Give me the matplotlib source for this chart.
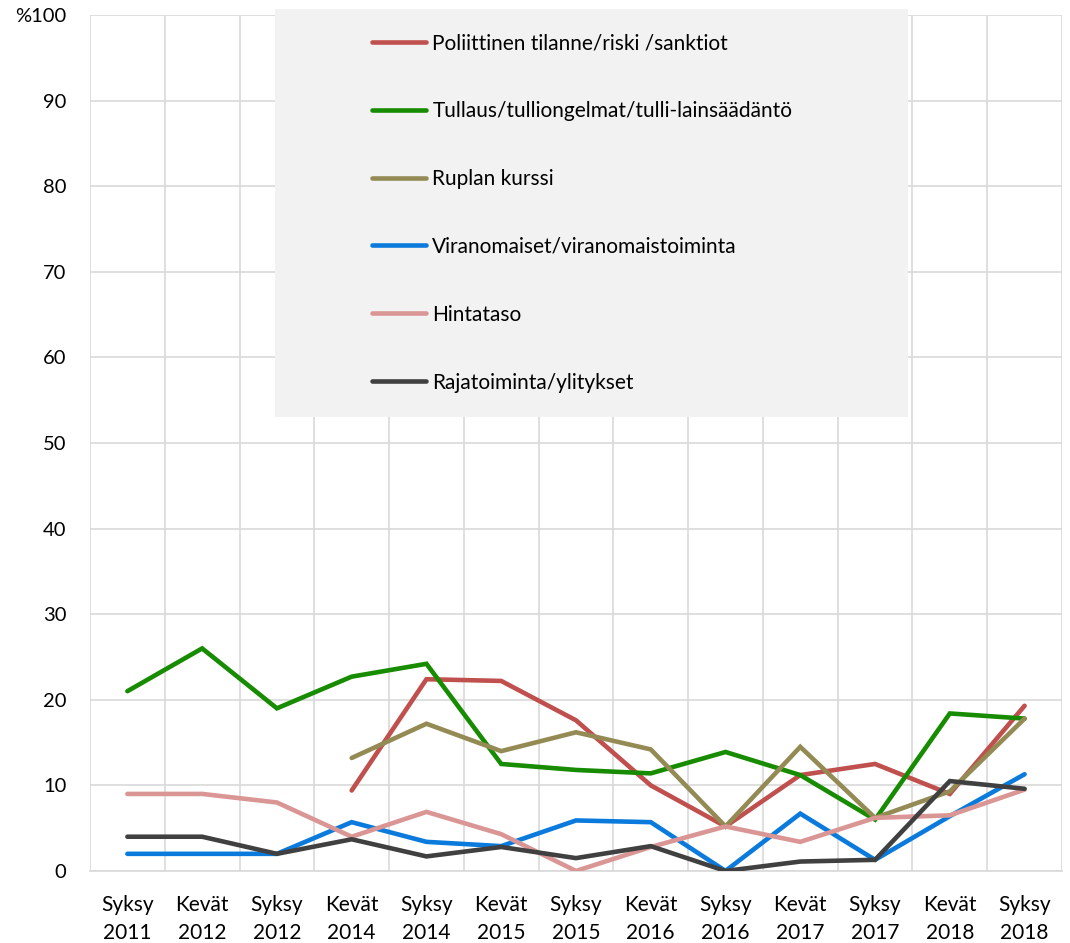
import matplotlib.pyplot as plt
from matplotlib.patches import Rectangle
import numpy as np

plt.rcParams['font.family'] = ['Lato', 'DejaVu Sans']

# categories (two-line labels)
periods = ["Syksy\n2011", "Kevät\n2012", "Syksy\n2012", "Kevät\n2014", "Syksy\n2014",
           "Kevät\n2015", "Syksy\n2015", "Kevät\n2016", "Syksy\n2016", "Kevät\n2017",
           "Syksy\n2017", "Kevät\n2018", "Syksy\n2018"]

# series values (%), None = no data
poliittinen = [None, None, None, 9.4, 22.4, 22.2, 17.6, 10.0, 5.2, 11.2, 12.5, 9.0, 19.3]
tullaus = [21.0, 26.0, 19.0, 22.7, 24.2, 12.5, 11.8, 11.4, 13.9, 11.2, 6.0, 18.4, 17.8]
rupla = [None, None, None, 13.2, 17.2, 14.0, 16.2, 14.2, 5.2, 14.5, 6.2, 9.3, 17.8]
viranomaiset = [2.0, 2.0, 2.0, 5.7, 3.4, 2.9, 5.9, 5.7, 0.0, 6.7, 1.3, 6.4, 11.3]
hintataso = [9.0, 9.0, 8.0, 4.0, 6.9, 4.3, 0.0, 2.8, 5.2, 3.4, 6.2, 6.5, 9.5]
rajatoiminta = [4.0, 4.0, 2.0, 3.7, 1.7, 2.8, 1.5, 2.9, 0.0, 1.1, 1.3, 10.5, 9.6]

series = [
    ("Poliittinen tilanne/riski /sanktiot", poliittinen, "#c0504d"),
    ("Tullaus/tulliongelmat/tulli-lainsäädäntö", tullaus, "#178c00"),
    ("Ruplan kurssi", rupla, "#948a54"),
    ("Viranomaiset/viranomaistoiminta", viranomaiset, "#0a7bdc"),
    ("Hintataso", hintataso, "#da9694"),
    ("Rajatoiminta/ylitykset", rajatoiminta, "#404040"),
]

fig = plt.figure(figsize=(10.7, 9.43), dpi=100)
ax = fig.add_axes([0.0841, 0.0764, 0.9084, 0.9077])

x = np.arange(len(periods))
for name, vals, col in series:
    y = np.array([np.nan if v is None else v for v in vals])
    ax.plot(x, y, color=col, lw=3.3, label=name, solid_capstyle='round',
            solid_joinstyle='miter', zorder=3)

ax.set_xlim(-0.5, len(periods) - 0.5)
ax.set_ylim(0, 100)
ax.set_yticks(np.arange(0, 101, 10))
ax.set_yticklabels([str(v) for v in range(0, 100, 10)] + ["%100"], fontsize=14.5)
ax.set_xticks(x)
ax.set_xticklabels(periods, fontsize=15, linespacing=1.5)
ax.set_xticks(np.arange(-0.5, len(periods)), minor=True)
ax.grid(True, axis='y', color='#d9d9d9', lw=1.2)
ax.grid(True, axis='x', which='minor', color='#d9d9d9', lw=1.2)
ax.tick_params(axis='both', which='both', length=0)
ax.tick_params(axis='x', pad=17)
ax.tick_params(axis='y', pad=17)
for s in ax.spines.values():
    s.set_visible(False)
ax.spines['bottom'].set_visible(True)
ax.spines['bottom'].set_color('#d9d9d9')
ax.spines['bottom'].set_linewidth(1.2)
ax.set_axisbelow(True)

# grey legend panel, placed in figure coordinates over the grid
ax.add_patch(Rectangle((275 / 1070, 1 - 417 / 943), 633 / 1070, 408 / 943,
                       transform=fig.transFigure, facecolor='#f2f2f2',
                       edgecolor='none', zorder=1.5, clip_on=False))

leg = ax.legend(loc='upper left', bbox_to_anchor=(372 / 1070, 1 - 33 / 943),
                bbox_transform=fig.transFigure, fontsize=15, frameon=False,
                handlelength=2.6, handletextpad=0.3, labelspacing=2.3,
                borderpad=0, borderaxespad=0)
leg.set_zorder(5)
for h in leg.get_lines():
    h.set_linewidth(3.3)

fig.savefig('out.png', dpi=100)
